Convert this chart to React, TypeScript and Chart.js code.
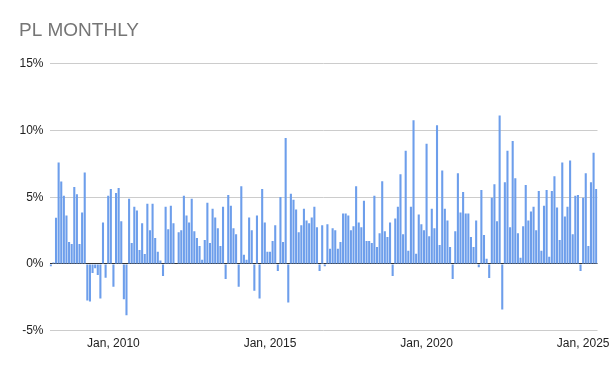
import React, { useEffect, useRef } from "react";
import { Chart, registerables } from "chart.js";

Chart.register(...registerables);

const startYear = 2008;
const pl2008 = [-0.17, 0.1, 3.46, 7.6, 6.18, 5.1, 3.63, 1.64, 1.5, 5.76, 5.22, 1.5];
const pl2009 = [3.85, 6.86, -2.75, -2.82, -0.69, -0.32, -0.83, -2.6, 3.11, -1.03, 5.1, 5.61];
const pl2010 = [-1.72, 5.32, 5.69, 3.19, -2.65, -3.85, 4.88, 1.57, 4.29, 4.0, 1.05, 3.04];
const pl2011 = [0.74, 4.51, 2.52, 4.51, 1.94, 0.91, 0.25, -0.91, 4.29, 2.6, 4.36, 3.04];
const pl2012 = [0, 2.38, 2.52, 5.1, 3.63, 3.11, 4.88, 2.45, 1.94, 1.35, 0.32, 1.79];
const pl2013 = [4.58, 1.57, 4.14, 3.48, 2.67, 1.35, 4.29, -1.13, 5.17, 4.36, 2.67, 2.23];
const pl2014 = [-1.72, 5.83, 0.69, 0.32, 3.48, 2.52, -2.01, 3.63, -2.6, 5.61, 3.11, 0.91];
const pl2015 = [0.91, 1.72, 2.89, -0.54, 5.02, 1.64, 9.44, -2.89, 5.25, 4.8, 4.07, 2.38];
const pl2016 = [2.89, 4.14, 3.26, 3.04, 3.48, 4.29, 2.75, -0.54, 2.89, -0.17, 2.97, 1.13];
const pl2017 = [2.67, 2.52, 1.13, 1.64, 3.77, 3.77, 3.63, 2.52, 2.82, 5.83, 3.11, 2.75];
const pl2018 = [4.73, 1.72, 1.72, 1.57, 5.1, 1.27, 2.3, 6.2, 2.45, 2.01, 3.11, -0.91];
const pl2019 = [3.41, 4.29, 6.72, 2.23, 8.48, 0.98, 4.29, 10.76, 0.76, 3.7, 2.97, 2.52];
const pl2020 = [9.0, 2.08, 4.14, 2.67, 10.39, 1.42, 7.01, 4.14, 3.26, 1.27, -1.13, 2.45];
const pl2021 = [6.79, 3.85, 5.39, 3.77, 3.77, 2.01, 1.27, 3.26, -0.25, 5.54, 2.16, 0.39];
const pl2022 = [-1.05, 4.95, 5.98, 3.19, 11.13, -3.41, 6.13, 8.48, 2.75, 9.22, 6.42, 2.3];
const pl2023 = [0.47, 2.82, 5.91, 3.26, 3.92, 4.29, 2.52, 5.47, 0.98, 4.36, 5.54, 0.54];
const pl2024 = [5.47, 6.57, 4.22, 1.79, 7.6, 3.55, 4.29, 7.75, 2.23, 5.1, 5.17, -0.54];
const pl2025 = [4.95, 6.79, 1.35, 6.13, 8.33, 5.61];

const yearly = [pl2008, pl2009, pl2010, pl2011, pl2012, pl2013, pl2014, pl2015, pl2016,
  pl2017, pl2018, pl2019, pl2020, pl2021, pl2022, pl2023, pl2024, pl2025];
const monthNames = ["Jan", "Feb", "Mar", "Apr", "May", "Jun", "Jul", "Aug", "Sep", "Oct", "Nov", "Dec"];
const shownTickLabels = ["Jan, 2010", "Jan, 2015", "Jan, 2020", "Jan, 2025"];
const yTicks = [-5, 0, 5, 10, 15];

const categories: string[] = [];
const values: number[] = [];
yearly.forEach((arr, yi) => {
  arr.forEach((v, mi) => {
    categories.push(`${monthNames[mi]}, ${startYear + yi}`);
    values.push(v);
  });
});

export default function App() {
  const ref = useRef<HTMLCanvasElement | null>(null);
  useEffect(() => {
    if (!ref.current) return;
    const font = "'Liberation Sans', Arial, sans-serif";
    const chart = new Chart(ref.current, {
      type: "bar",
      data: {
        labels: categories,
        datasets: [
          {
            data: values,
            backgroundColor: "rgb(109,158,235)",
            borderWidth: 0,
            categoryPercentage: 1,
            barPercentage: 0.8,
          },
        ],
      },
      options: {
        animation: false,
        responsive: false,
        maintainAspectRatio: false,
        layout: { padding: { left: 19, right: 18.5, top: 0, bottom: 14 } },
        plugins: {
          legend: { display: false },
          tooltip: { enabled: false },
          title: {
            display: true,
            text: "PL MONTHLY",
            align: "start",
            color: "#757575",
            font: { family: font, size: 19, weight: "normal" },
            padding: { top: 19, bottom: 22 },
          },
        },
        scales: {
          x: {
            grid: { display: false, drawTicks: false },
            border: { display: false },
            ticks: {
              autoSkip: false,
              maxRotation: 0,
              minRotation: 0,
              padding: 6,
              color: "#222",
              font: { family: font, size: 12 },
              callback: function (_v: any, i: number) {
                const l = categories[i];
                return shownTickLabels.includes(l) ? l : "";
              },
            },
          },
          y: {
            min: -5,
            max: 15,
            afterBuildTicks: (scale: any) => {
              scale.ticks = yTicks.map((v) => ({ value: v }));
            },
            afterFit: (scale: any) => {
              scale.width = 30.5;
            },
            grid: {
              drawTicks: false,
              color: (ctx: any) => (ctx.tick && ctx.tick.value === 0 ? "#333" : "#cccccc"),
              lineWidth: 1,
            },
            border: { display: false },
            ticks: {
              padding: 6,
              color: "#222",
              font: { family: font, size: 12 },
              callback: (v: any) => `${v}%`,
            },
          },
        },
      },
    } as any);
    return () => chart.destroy();
  }, []);
  return (
    <div style={{ position: "fixed", left: 0, top: 0, width: 616, height: 371, background: "#fff" }}>
      <canvas ref={ref} width={616} height={371} style={{ width: 616, height: 371 }} />
    </div>
  );
}
